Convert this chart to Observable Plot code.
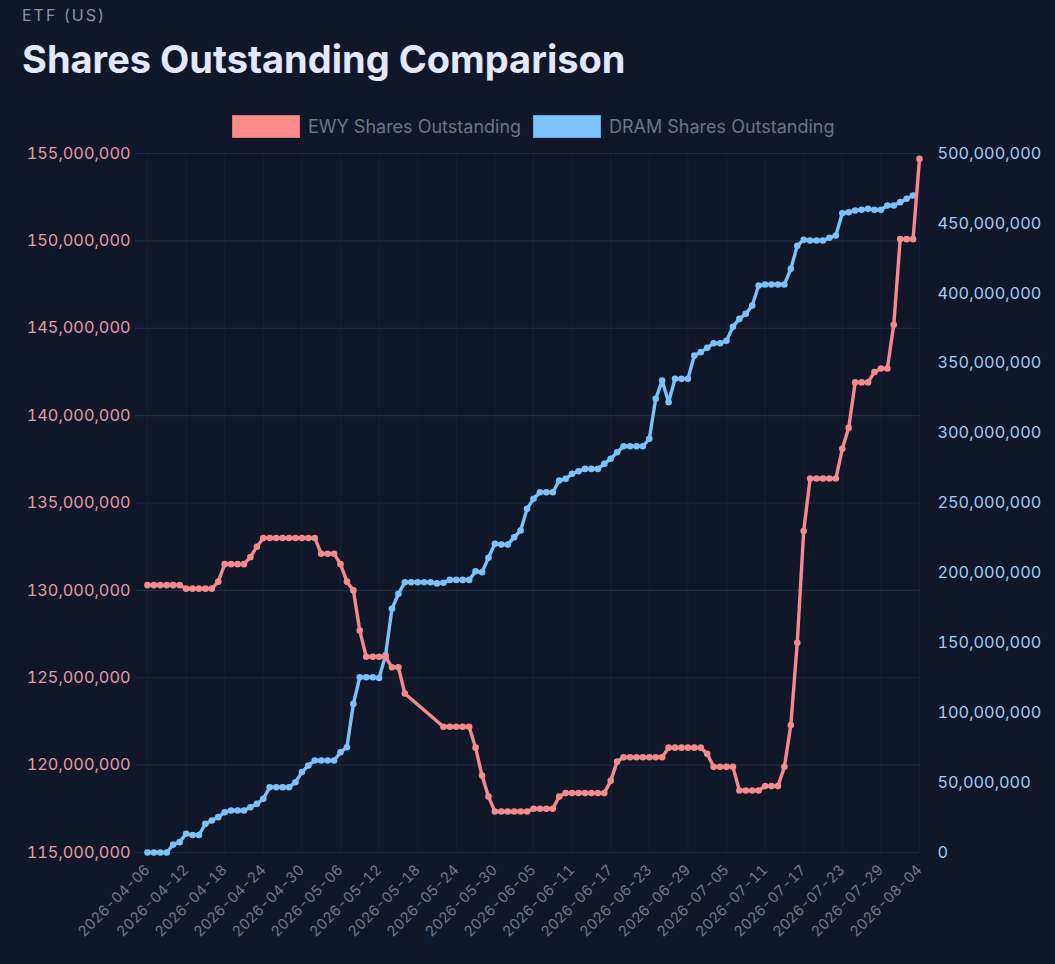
<!DOCTYPE html>
<html><head><meta charset="utf-8">
<script src="https://cdn.jsdelivr.net/npm/d3@7"></script>
<script src="https://cdn.jsdelivr.net/npm/@observablehq/plot@0.6"></script>
<style>
html,body{margin:0;padding:0;background:#0f1729;}
body{width:1055px;height:964px;overflow:hidden;position:relative;font-family:Inter,Roboto,"Noto Sans",sans-serif;}
#sup{position:absolute;left:22px;top:5px;font-size:16px;color:#8b95a7;letter-spacing:2px;}
#title{position:absolute;left:22px;top:36px;font-size:38px;font-weight:700;color:#e3e8ff;}
.lg{position:absolute;top:115px;height:23px;display:flex;align-items:center;font-size:18px;color:#6b7587;white-space:nowrap;}
.sw{width:66px;height:21px;margin-right:8px;}
#chart{position:absolute;left:0;top:140px;}
</style></head>
<body>
<div id="sup">ETF (US)</div>
<div id="title">Shares Outstanding Comparison</div>
<div class="lg" style="left:232px"><div class="sw" style="background:#ff8a8a;border:1px solid #e0707c"></div>EWY Shares Outstanding</div>
<div class="lg" style="left:533px"><div class="sw" style="background:#7cc3fb;border:1px solid #5ea8e6"></div>DRAM Shares Outstanding</div>
<div id="chart"></div>
<script>
// Daily observations starting 2026-04-06 (121 days)
const startDate = "2026-04-06";
const dayCount = 121;

// EWY shares outstanding (millions); null = no observation
const ewy = [
 130.3,130.3,130.3,130.3,130.3,130.3,130.1,130.1,130.1,130.1,
 130.1,130.5,131.5,131.5,131.5,131.5,131.9,132.5,133.0,133.0,
 133.0,133.0,133.0,133.0,133.0,133.0,133.0,132.1,132.1,132.1,
 131.5,130.5,130.0,127.7,126.2,126.2,126.2,126.2,125.6,125.6,
 124.1,null,null,null,null,null,122.2,122.2,122.2,122.2,
 122.2,121.0,119.4,118.2,117.35,117.35,117.35,117.35,117.35,117.35,
 117.5,117.5,117.5,117.5,118.2,118.4,118.4,118.4,118.4,118.4,
 118.4,118.4,119.1,120.2,120.45,120.45,120.45,120.45,120.45,120.45,
 120.45,121.0,121.0,121.0,121.0,121.0,121.0,120.65,119.9,119.9,
 119.9,119.9,118.55,118.55,118.55,118.55,118.8,118.8,118.8,119.9,
 122.3,127.0,133.4,136.4,136.4,136.4,136.4,136.4,138.1,139.3,
 141.9,141.9,141.9,142.5,142.7,142.7,145.2,150.1,150.1,150.1,
 154.7
];

// DRAM shares outstanding (millions); null = no observation
const dram = [
 0,0,0,0,5.7,7.4,13.4,12.5,12.5,20.5,
 22.9,25.3,28.8,30,30,30,32.4,34.8,38.4,46.7,
 46.7,46.7,46.7,50.3,57.5,62.2,65.8,65.8,65.8,65.8,
 71.7,75.3,106.3,125.4,125.4,125.4,124.8,141,174.3,185,
 193.3,193.3,193.3,193.3,193.3,192.5,193,195,195,195,
 195,201.2,200.5,210.8,220.8,220.3,220.3,225.5,230.3,245.8,
 253,257.7,257.7,257.7,266.1,267.3,270.9,272.7,274.4,274.4,
 274.4,278,281.6,286.3,290.6,290.6,290.6,290.6,295.9,324.5,
 337.6,322.1,338.8,338.8,338.8,355.5,357.9,361,364.3,364.3,
 366,376,381.7,385.3,391.3,405.6,406.3,406.3,406.3,406.3,
 417.5,434,438.3,437.8,437.8,437.8,439.7,441.3,457.3,458,
 459.2,459.7,460.4,459.7,459.7,462.8,462.8,465.2,467.6,470,
 null
];

const tickLabels = ["2026-04-06","2026-04-12","2026-04-18","2026-04-24","2026-04-30","2026-05-06","2026-05-12","2026-05-18","2026-05-24","2026-05-30","2026-06-05","2026-06-11","2026-06-17","2026-06-23","2026-06-29","2026-07-05","2026-07-11","2026-07-17","2026-07-23","2026-07-29","2026-08-04"];
const ewyTicks = [115,120,125,130,135,140,145,150,155];      // millions
const dramTicks = [0,50,100,150,200,250,300,350,400,450,500]; // millions

const EWY_COLOR = "#f58a8c";
const DRAM_COLOR = "#7cc2f8";

const parse = d3.utcParse("%Y-%m-%d");
const dates = d3.utcDay.range(parse(startDate), d3.utcDay.offset(parse(startDate), dayCount));
const tickDates = tickLabels.map(parse);

// map DRAM (right axis) onto the EWY (left) scale
const ewyMin = 115, ewyMax = 155, dramMin = 0, dramMax = 500;
const toLeft = v => ewyMin + (v - dramMin) * (ewyMax - ewyMin) / (dramMax - dramMin);
const toRight = v => dramMin + (v - ewyMin) * (dramMax - dramMin) / (ewyMax - ewyMin);

const ewyData = dates.map((d, i) => ({date: d, v: ewy[i]})).filter(d => d.v != null);
const dramData = dates.map((d, i) => ({date: d, v: dram[i] == null ? null : toLeft(dram[i])})).filter(d => d.v != null);

const fmt = d3.format(",");

const chart = Plot.plot({
  width: 1055,
  height: 824,
  marginTop: 13,
  marginBottom: 112,
  marginLeft: 147,
  marginRight: 136,
  style: {background: "transparent", fontFamily: "Inter, Roboto, 'Noto Sans', sans-serif", fontSize: "16px", overflow: "visible"},
  x: {type: "utc", domain: [dates[0], dates[dates.length - 1]]},
  y: {domain: [ewyMin, ewyMax]},
  marks: [
    Plot.ruleX(tickDates, {stroke: "#16203a", strokeWidth: 1}),
    Plot.ruleY(ewyTicks, {stroke: "#212c42", strokeWidth: 1.2, insetLeft: -12}),
    Plot.axisY({anchor: "left", ticks: ewyTicks, tickSize: 0, tickPadding: 17, fill: "#e89ba3", fontSize: 16.3, tickFormat: d => fmt(d * 1e6), label: null}),
    Plot.axisY({anchor: "right", ticks: dramTicks.map(toLeft), tickSize: 0, tickPadding: 18, fill: "#9fcdf5", fontSize: 16.3, tickFormat: d => fmt(Math.round(toRight(d)) * 1e6), label: null}),
    Plot.axisX({ticks: tickDates, tickSize: 0, tickPadding: 15, tickRotate: -45, fill: "#6f7a8d", fontSize: 14.6, tickFormat: d3.utcFormat("%Y-%m-%d"), label: null}),
    Plot.line(dramData, {x: "date", y: "v", stroke: DRAM_COLOR, strokeWidth: 3.4, curve: "linear"}),
    Plot.dot(dramData, {x: "date", y: "v", fill: DRAM_COLOR, r: 3.3}),
    Plot.line(ewyData, {x: "date", y: "v", stroke: EWY_COLOR, strokeWidth: 3.4, curve: "linear"}),
    Plot.dot(ewyData, {x: "date", y: "v", fill: EWY_COLOR, r: 3.3})
  ]
});
document.getElementById("chart").appendChild(chart);
</script>
</body></html>
